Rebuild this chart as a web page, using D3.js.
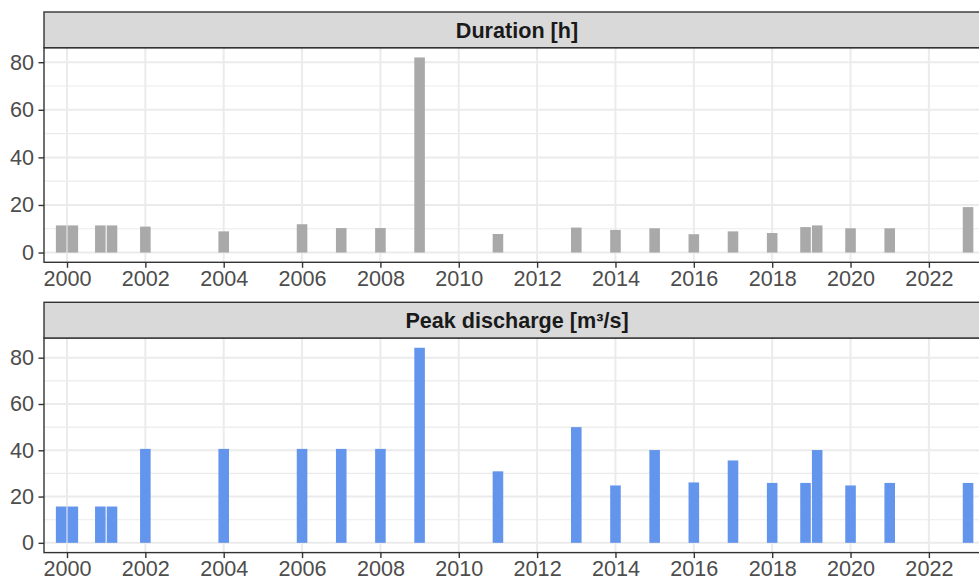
<!DOCTYPE html>
<html>
<head>
<meta charset="utf-8">
<script src="https://cdn.jsdelivr.net/npm/d3@7"></script>
<style>
  html, body { margin: 0; padding: 0; background: #fff; }
  svg { display: block; font-family: "Liberation Sans", Arial, sans-serif; }
</style>
</head>
<body>
<svg id="chart" width="979" height="579"></svg>
<script>
// Flood events per year (years with two events appear twice)
const eventYears = [2000, 2000, 2001, 2001, 2002, 2004, 2006, 2007, 2008, 2009, 2011,
                    2013, 2014, 2015, 2016, 2017, 2018, 2019, 2019, 2020, 2021, 2023];
// Event duration in hours
const durationH = [11.4, 11.4, 11.4, 11.4, 10.9, 8.9, 11.9, 10.3, 10.3, 82, 7.8,
                   10.5, 9.5, 10.2, 7.7, 8.9, 8.2, 10.7, 11.4, 10.2, 10.2, 19.1];
// Peak discharge in m³/s
const peakQ = [15.7, 15.7, 15.7, 15.7, 40.6, 40.6, 40.6, 40.6, 40.6, 84.3, 30.9,
               50.0, 24.8, 40.1, 26.1, 35.6, 25.9, 25.9, 40.1, 24.8, 25.9, 25.9];

const xTicks = [2000, 2002, 2004, 2006, 2008, 2010, 2012, 2014, 2016, 2018, 2020, 2022];
const yTicks = [0, 20, 40, 60, 80];
const yMinor = [10, 30, 50, 70];

const panels = [
  { title: "Duration [h]", values: durationH, fill: "#a9a9a9" },
  { title: "Peak discharge [m³/s]", values: peakQ, fill: "#6495ed" }
];

const svg = d3.select("#chart");
const left = 44, right = 990;
const stripH = 35.7, panelH = 214.6;
const panelTops = [12, 302.3];
const fontSize = 21.6;

const x = d3.scaleLinear().domain([1999.413, 2023.56]).range([left, right]);
const barW = 0.27;      // bar width in years
const dodge = 0.149;    // offset of paired bars in years

// dodge offsets for years with more than one event
const counts = d3.rollup(eventYears, v => v.length, d => d);
const seen = new Map();
const xPos = eventYears.map(yr => {
  const n = counts.get(yr);
  const k = seen.get(yr) || 0;
  seen.set(yr, k + 1);
  return n === 1 ? yr : yr + (k === 0 ? -dodge : dodge);
});

const gridCol = "#ebebeb", borderCol = "#333333", textCol = "#4d4d4d";

panels.forEach((p, i) => {
  const top = panelTops[i];
  const pTop = top + stripH, pBot = pTop + panelH;
  const vmax = d3.max(p.values);
  const y = d3.scaleLinear().domain([-0.05 * vmax, 1.05 * vmax]).range([pBot, pTop]);
  const g = svg.append("g");

  // minor horizontal grid
  g.selectAll(".ymin").data(yMinor).join("line")
    .attr("x1", left).attr("x2", right)
    .attr("y1", d => y(d)).attr("y2", d => y(d))
    .attr("stroke", gridCol).attr("stroke-width", 1.1);
  // major grid
  g.selectAll(".ymaj").data(yTicks).join("line")
    .attr("x1", left).attr("x2", right)
    .attr("y1", d => y(d)).attr("y2", d => y(d))
    .attr("stroke", gridCol).attr("stroke-width", 2);
  g.selectAll(".xmaj").data(xTicks).join("line")
    .attr("x1", d => x(d)).attr("x2", d => x(d))
    .attr("y1", pTop).attr("y2", pBot)
    .attr("stroke", gridCol).attr("stroke-width", 2);

  // bars
  g.selectAll(".bar").data(p.values).join("rect")
    .attr("x", (d, j) => x(xPos[j] - barW / 2))
    .attr("width", (d, j) => x(xPos[j] + barW / 2) - x(xPos[j] - barW / 2))
    .attr("y", d => y(d))
    .attr("height", d => y(0) - y(d))
    .attr("fill", p.fill);

  // panel border
  g.append("rect")
    .attr("x", left).attr("y", pTop).attr("width", right - left).attr("height", panelH)
    .attr("fill", "none").attr("stroke", borderCol).attr("stroke-width", 1.4);

  // strip
  g.append("rect")
    .attr("x", left).attr("y", top).attr("width", right - left).attr("height", stripH)
    .attr("fill", "#d9d9d9").attr("stroke", borderCol).attr("stroke-width", 1.4);
  g.append("text")
    .attr("x", (left + right) / 2).attr("y", top + stripH / 2)
    .attr("dy", "0.36em").attr("text-anchor", "middle")
    .attr("font-size", fontSize).attr("font-weight", "bold").attr("fill", "#1a1a1a")
    .text(p.title);

  // y axis
  const yAxis = g.append("g").attr("transform", `translate(${left},0)`)
    .call(d3.axisLeft(y).tickValues(yTicks).tickSize(5.5).tickPadding(4.5).tickFormat(d3.format("d")));
  yAxis.select(".domain").remove();
  yAxis.selectAll(".tick line").attr("stroke", borderCol).attr("stroke-width", 1.4);
  yAxis.selectAll(".tick text").attr("fill", textCol).attr("font-size", fontSize)
    .attr("font-family", "Liberation Sans, Arial, sans-serif");

  // x axis
  const xAxis = g.append("g").attr("transform", `translate(0,${pBot})`)
    .call(d3.axisBottom(x).tickValues(xTicks).tickSize(5.5).tickPadding(3).tickFormat(d3.format("d")));
  xAxis.select(".domain").remove();
  xAxis.selectAll(".tick line").attr("stroke", borderCol).attr("stroke-width", 1.4);
  xAxis.selectAll(".tick text").attr("fill", textCol).attr("font-size", fontSize)
    .attr("font-family", "Liberation Sans, Arial, sans-serif");
});
</script>
</body>
</html>
